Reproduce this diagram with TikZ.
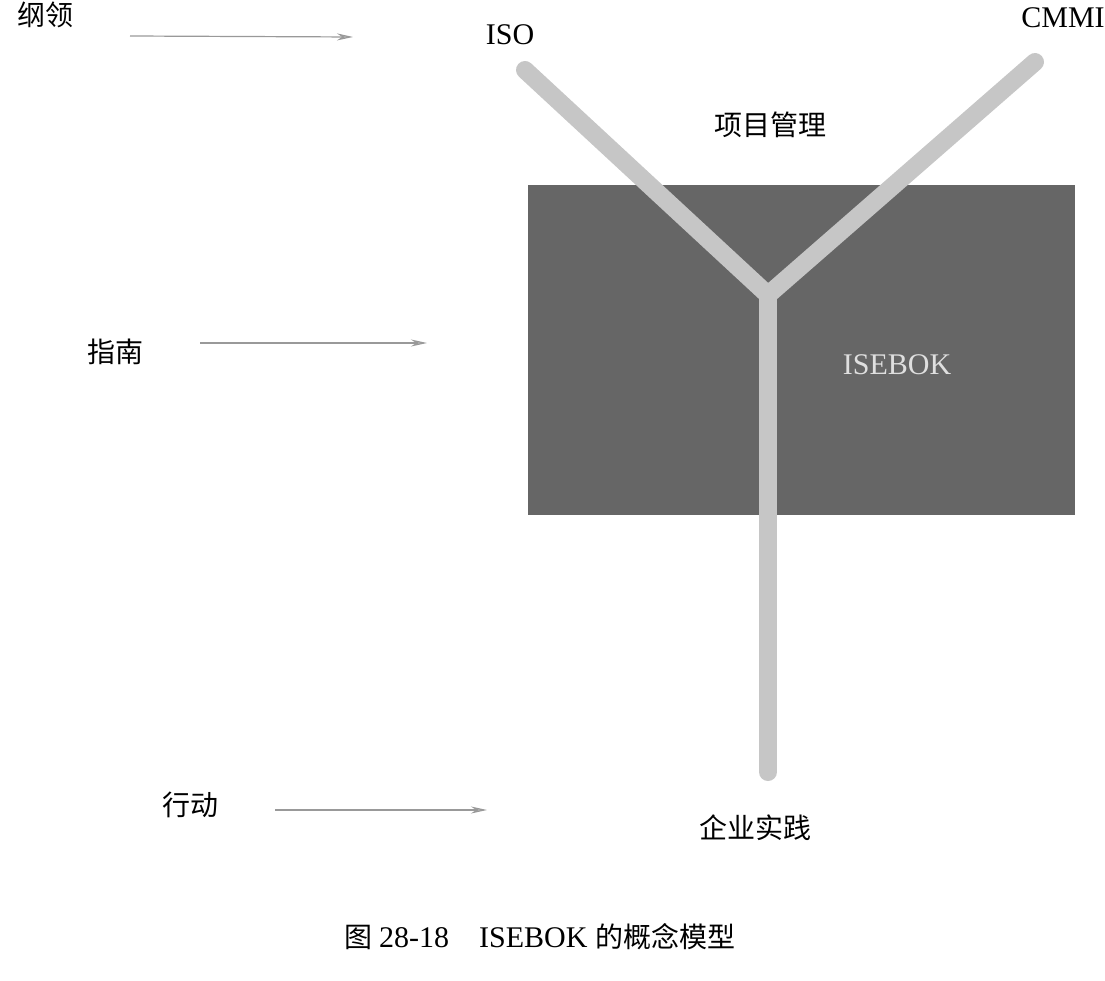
\documentclass[tikz,border=0pt]{standalone}
\usepackage{fontspec}
\setmainfont{Liberation Serif}
\newfontfamily\cjk{Noto Sans CJK SC}
\usetikzlibrary{arrows.meta}
\begin{document}
\begin{tikzpicture}[x=1pt,y=-1pt,
  lbl/.style={font=\cjk\fontsize{28}{32}\selectfont,anchor=center},
  lat/.style={font=\fontsize{30}{34}\selectfont,anchor=center},
  arr/.style={draw=gray!80,line width=1.2pt,-{Stealth[length=16pt,width=7pt,fill=gray!50]}},
  branch/.style={draw=gray!45,line width=18pt,line cap=round,line join=round}]
\useasboundingbox (0,0) rectangle (1105,981);
\fill[black!60] (528,185) rectangle (1075,515);
\coordinate (iso0) at (525,70);
\coordinate (fork) at (768,295);
\coordinate (cm0) at (1035,62);
\coordinate (bot) at (768,772);
\draw[branch] (iso0) -- (fork) -- (cm0);
\draw[branch] (fork) -- (bot);
\node[lat] (iso) at (510,35) {ISO};
\node[lat] (cmmi) at (1063,18) {CMMI};
\node[lbl] (xm) at (770,125) {项目管理};
\node[lat,text=gray!25] (ise) at (897,365) {ISEBOK};
\node[lbl] (gl) at (45,15) {纲领};
\node[lbl] (zn) at (115,352) {指南};
\node[lbl] (xd) at (190,805) {行动};
\node[lbl] (qy) at (755,828) {企业实践};
\coordinate (a1s) at (130,36); \coordinate (a1e) at (353,37);
\coordinate (a2s) at (200,343); \coordinate (a2e) at (427,343);
\coordinate (a3s) at (275,810); \coordinate (a3e) at (487,810);
\draw[arr] (a1s) -- (a1e);
\draw[arr] (a2s) -- (a2e);
\draw[arr] (a3s) -- (a3e);
\node[anchor=center] (cap) at (540,937) {{\cjk\fontsize{28}{32}\selectfont 图 }{\fontsize{30}{34}\selectfont 28-18\quad ISEBOK }{\cjk\fontsize{28}{32}\selectfont 的概念模型}};
\end{tikzpicture}
\end{document}
